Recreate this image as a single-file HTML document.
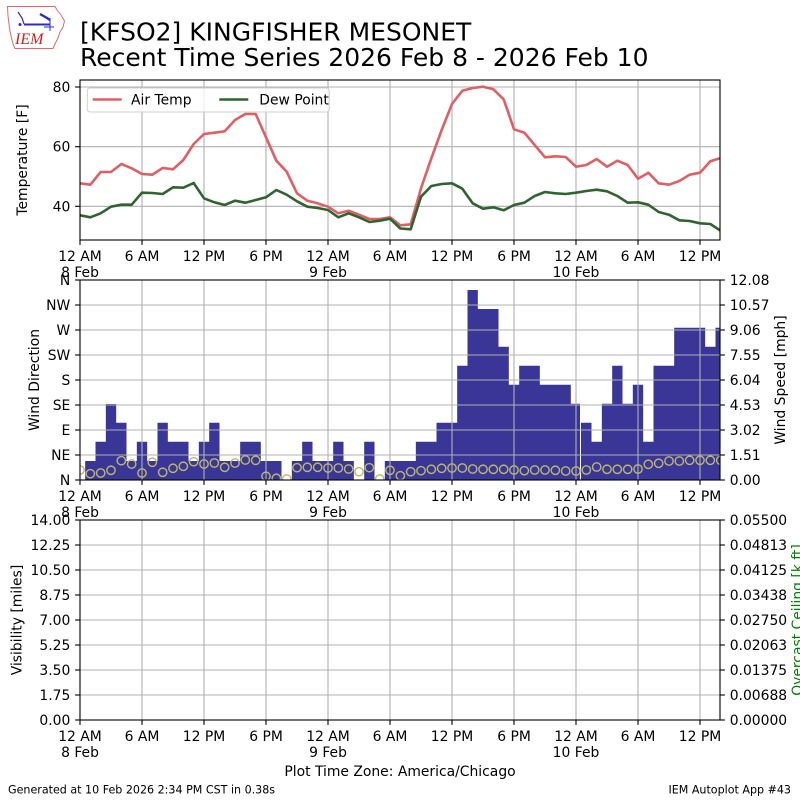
<!DOCTYPE html>
<html>
<head>
<meta charset="utf-8">
<style>
  html, body { margin: 0; padding: 0; background: #ffffff; }
  body { width: 800px; height: 800px; overflow: hidden; }
  svg { display: block; }
  text { font-family: "DejaVu Sans", "Liberation Sans", sans-serif; fill: #000; }
</style>
</head>
<body>
<svg width="800" height="800" viewBox="0 0 800 800" xmlns="http://www.w3.org/2000/svg">
  <rect x="0" y="0" width="800" height="800" fill="#ffffff"/>

  <!-- Logo -->
  <g>
    <path d="M7.5,6.5 L55,6.5 L57,10 L61,15 L64.5,21 L63,27 L60,32 L58,38 L55.5,43 L53,48.5 L15,48.5 L13,44 L11.5,38 L10,31 L9,24 L8,16 Z" fill="none" stroke="#e06a6a" stroke-width="1"/>
    <line x1="24" y1="24.5" x2="50" y2="24.5" stroke="#2a2ad0" stroke-width="2"/>
    <path d="M18,12 L22,18 L24,24" fill="none" stroke="#2a2ad0" stroke-width="1.2"/>
    <path d="M40,14 L47,18 L50,20" fill="none" stroke="#2a2ad0" stroke-width="2.4"/>
    <line x1="50" y1="18" x2="50" y2="31" stroke="#2a2ad0" stroke-width="1"/>
    <line x1="44" y1="27" x2="54" y2="27" stroke="#2a2ad0" stroke-width="1"/>
    <circle cx="20" cy="24.5" r="1.5" fill="#2a2ad0"/>
    <text x="15" y="44" font-family="Liberation Serif, serif" font-style="italic" font-size="16" fill="#d02020" style="font-family:'Liberation Serif',serif;fill:#d02020">IEM</text>
  </g>

  <!-- Title -->
  <text x="80" y="40.5" font-size="25">[KFSO2] KINGFISHER MESONET</text>
  <text x="80" y="66" font-size="25">Recent Time Series 2026 Feb 8 - 2026 Feb 10</text>

  <defs>
    <clipPath id="c1"><rect x="80" y="80" width="640" height="160"/></clipPath>
    <clipPath id="c2"><rect x="80" y="280" width="640" height="200"/></clipPath>
  </defs>

  <!-- ================= PANEL 1 ================= -->
  <g stroke="#b0b0b0" stroke-width="1.1">
    <line x1="142" y1="80" x2="142" y2="240"/>
    <line x1="204" y1="80" x2="204" y2="240"/>
    <line x1="266" y1="80" x2="266" y2="240"/>
    <line x1="328" y1="80" x2="328" y2="240"/>
    <line x1="390" y1="80" x2="390" y2="240"/>
    <line x1="452" y1="80" x2="452" y2="240"/>
    <line x1="514" y1="80" x2="514" y2="240"/>
    <line x1="576" y1="80" x2="576" y2="240"/>
    <line x1="638" y1="80" x2="638" y2="240"/>
    <line x1="700" y1="80" x2="700" y2="240"/>
    <line x1="80" y1="87" x2="720" y2="87"/>
    <line x1="80" y1="146.7" x2="720" y2="146.7"/>
    <line x1="80" y1="206.3" x2="720" y2="206.3"/>
  </g>
  <g clip-path="url(#c1)" fill="none" stroke-width="2.6" stroke-linejoin="round" stroke-linecap="square">
    <polyline stroke="#df6064" points="80,183.3 90.33,184.7 100.67,172 111,172 121.33,164 131.67,168.3 142,174 152.33,174.7 162.67,168 173,169.3 183.33,160 193.67,144 204,134 214.33,132.7 224.67,131.3 235,120 245.33,114 255.67,114 266,137.3 276.33,160.7 286.67,171.7 297,193.3 307.33,200.7 317.67,203.3 328,206.7 338.33,213.3 348.67,210.7 359,214.7 369.33,219 379.67,219 390,217.3 400.33,225.3 410.67,224.3 421,188.3 431.33,158.3 441.67,130 452,104 462.33,90.7 472.67,88 483,86.7 493.33,89.3 503.67,99.3 514,129.3 524.33,132.7 534.67,145 545,157.3 555.33,156.3 565.67,157 576,166.7 586.33,165 596.67,159 607,166.7 617.33,160.7 627.67,165 638,178.7 648.33,172.7 658.67,183.3 669,184.7 679.33,181 689.67,174.7 700,172.7 710.33,161.3 720.67,158"/>
    <polyline stroke="#2f6431" points="80,215.3 90.33,217.3 100.67,213.3 111,206.7 121.33,204.7 131.67,204.7 142,192.7 152.33,193 162.67,194 173,187.3 183.33,187.7 193.67,183 204,198.3 214.33,202.3 224.67,205 235,200.7 245.33,202.7 255.67,200 266,197.3 276.33,190 286.67,194.7 297,201.3 307.33,206.7 317.67,208 328,210 338.33,217.3 348.67,213.3 359,217.3 369.33,222 379.67,220.7 390,218.7 400.33,228.5 410.67,229.3 421,196.7 431.33,186 441.67,184 452,183.3 462.33,188.7 472.67,203.3 483,208.7 493.33,207.3 503.67,210.3 514,205 524.33,202.7 534.67,196 545,192 555.33,193.3 565.67,194 576,192.7 586.33,191 596.67,189.7 607,191.3 617.33,196 627.67,202.7 638,202.3 648.33,204.7 658.67,212 669,214.7 679.33,220.3 689.67,221 700,223.3 710.33,224 720.67,230.7"/>
  </g>
  <!-- legend -->
  <rect x="87.3" y="88" width="242" height="24" rx="3" ry="3" fill="#ffffff" fill-opacity="0.8" stroke="#d0d0d0" stroke-width="1"/>
  <line x1="92.7" y1="99.5" x2="121.7" y2="99.5" stroke="#df6064" stroke-width="2.6"/>
  <text x="131" y="104.5" font-size="13.9">Air Temp</text>
  <line x1="219.3" y1="99.5" x2="248.3" y2="99.5" stroke="#2f6431" stroke-width="2.6"/>
  <text x="259.3" y="104.5" font-size="13.9">Dew Point</text>

  <rect x="80" y="80" width="640" height="160" fill="none" stroke="#000" stroke-width="1.1"/>
  <g stroke="#000" stroke-width="1.1">
    <line x1="75.1" y1="87" x2="80" y2="87"/>
    <line x1="75.1" y1="146.7" x2="80" y2="146.7"/>
    <line x1="75.1" y1="206.3" x2="80" y2="206.3"/>
    <line x1="80" y1="240" x2="80" y2="244.9"/>
    <line x1="142" y1="240" x2="142" y2="244.9"/>
    <line x1="204" y1="240" x2="204" y2="244.9"/>
    <line x1="266" y1="240" x2="266" y2="244.9"/>
    <line x1="328" y1="240" x2="328" y2="244.9"/>
    <line x1="390" y1="240" x2="390" y2="244.9"/>
    <line x1="452" y1="240" x2="452" y2="244.9"/>
    <line x1="514" y1="240" x2="514" y2="244.9"/>
    <line x1="576" y1="240" x2="576" y2="244.9"/>
    <line x1="638" y1="240" x2="638" y2="244.9"/>
    <line x1="700" y1="240" x2="700" y2="244.9"/>
  </g>
  <g font-size="13.9" text-anchor="end">
    <text x="70.3" y="92">80</text>
    <text x="70.3" y="151.7">60</text>
    <text x="70.3" y="211.3">40</text>
  </g>
  <g font-size="13.9" text-anchor="middle">
    <text x="80" y="261">12 AM</text><text x="80" y="277">8 Feb</text>
    <text x="142" y="261">6 AM</text>
    <text x="204" y="261">12 PM</text>
    <text x="266" y="261">6 PM</text>
    <text x="328" y="261">12 AM</text><text x="328" y="277">9 Feb</text>
    <text x="390" y="261">6 AM</text>
    <text x="452" y="261">12 PM</text>
    <text x="514" y="261">6 PM</text>
    <text x="576" y="261">12 AM</text><text x="576" y="277">10 Feb</text>
    <text x="638" y="261">6 AM</text>
    <text x="700" y="261">12 PM</text>
  </g>
  <text transform="translate(27,160) rotate(-90)" font-size="13.9" text-anchor="middle">Temperature [F]</text>

  <!-- ================= PANEL 2 ================= -->
  <path fill="#3a3698" d="M85.17,480V461H95.5V480Z M95.5,480V441.7H105.83V480Z M105.83,480V404H116.17V480Z M116.17,480V422.7H126.5V480Z M126.5,480V461H136.83V480Z M136.83,480V441.7H147.17V480Z M147.17,480V461H157.5V480Z M157.5,480V422.7H167.83V480Z M167.83,480V441.7H188.5V480Z M188.5,480V461H198.83V480Z M198.83,480V441.7H209.17V480Z M209.17,480V422.7H219.5V480Z M219.5,480V461H240.17V480Z M240.17,480V441.7H260.83V480Z M260.83,480V461H281.5V480Z M291.83,480V461H302.17V480Z M302.17,480V441.7H312.5V480Z M312.5,480V461H333.17V480Z M333.17,480V441.7H343.5V480Z M343.5,480V461H353.83V480Z M364.17,480V441.7H374.5V480Z M384.83,480V461H415.83V480Z M415.83,480V441.7H436.5V480Z M436.5,480V422.7H457.17V480Z M457.17,480V365.7H467.5V480Z M467.5,480V290H477.83V480Z M477.83,480V309H498.5V480Z M498.5,480V346.7H508.83V480Z M508.83,480V384.7H519.17V480Z M519.17,480V365.7H539.83V480Z M539.83,480V384.7H570.83V480Z M570.83,480V403.7H580V480Z M581,480V422.7H591.5V480Z M591.5,480V441.7H601.83V480Z M601.83,480V403.7H612.17V480Z M612.17,480V365.7H622.5V480Z M622.5,480V403.7H632.83V480Z M632.83,480V384.7H643.17V480Z M643.17,480V441.7H653.5V480Z M653.5,480V365.7H674.17V480Z M674.17,480V327.7H705.17V480Z M705.17,480V346.7H715.5V480Z M715.5,480V327.7H720V480Z"/>
  <g stroke="#b0b0b0" stroke-width="1.1">
    <line x1="142" y1="280" x2="142" y2="480"/>
    <line x1="204" y1="280" x2="204" y2="480"/>
    <line x1="266" y1="280" x2="266" y2="480"/>
    <line x1="328" y1="280" x2="328" y2="480"/>
    <line x1="390" y1="280" x2="390" y2="480"/>
    <line x1="452" y1="280" x2="452" y2="480"/>
    <line x1="514" y1="280" x2="514" y2="480"/>
    <line x1="576" y1="280" x2="576" y2="480"/>
    <line x1="638" y1="280" x2="638" y2="480"/>
    <line x1="700" y1="280" x2="700" y2="480"/>
    <line x1="80" y1="305" x2="720" y2="305"/>
    <line x1="80" y1="330" x2="720" y2="330"/>
    <line x1="80" y1="355" x2="720" y2="355"/>
    <line x1="80" y1="380" x2="720" y2="380"/>
    <line x1="80" y1="405" x2="720" y2="405"/>
    <line x1="80" y1="430" x2="720" y2="430"/>
    <line x1="80" y1="455" x2="720" y2="455"/>
  </g>
  <g clip-path="url(#c2)" fill="none" stroke="#bdb76b" stroke-width="1.4">
    <circle cx="80" cy="470" r="4.17"/>
    <circle cx="90.33" cy="473.7" r="4.17"/>
    <circle cx="100.67" cy="473" r="4.17"/>
    <circle cx="111" cy="470.3" r="4.17"/>
    <circle cx="121.33" cy="460.7" r="4.17"/>
    <circle cx="131.67" cy="464" r="4.17"/>
    <circle cx="142" cy="473" r="4.17"/>
    <circle cx="152.33" cy="462.3" r="4.17"/>
    <circle cx="162.67" cy="472.3" r="4.17"/>
    <circle cx="173" cy="468.3" r="4.17"/>
    <circle cx="183.33" cy="466.3" r="4.17"/>
    <circle cx="193.67" cy="461.7" r="4.17"/>
    <circle cx="204" cy="464" r="4.17"/>
    <circle cx="214.33" cy="463" r="4.17"/>
    <circle cx="224.67" cy="467.3" r="4.17"/>
    <circle cx="235" cy="463" r="4.17"/>
    <circle cx="245.33" cy="460" r="4.17"/>
    <circle cx="255.67" cy="460.3" r="4.17"/>
    <circle cx="266" cy="476.3" r="4.17"/>
    <circle cx="276.33" cy="478.3" r="4.17"/>
    <circle cx="286.67" cy="479" r="4.17"/>
    <circle cx="297" cy="467.7" r="4.17"/>
    <circle cx="307.33" cy="467.3" r="4.17"/>
    <circle cx="317.67" cy="467.3" r="4.17"/>
    <circle cx="328" cy="468" r="4.17"/>
    <circle cx="338.33" cy="468" r="4.17"/>
    <circle cx="348.67" cy="469" r="4.17"/>
    <circle cx="359" cy="471.7" r="4.17"/>
    <circle cx="369.33" cy="467.7" r="4.17"/>
    <circle cx="379.67" cy="479" r="4.17"/>
    <circle cx="390" cy="470.3" r="4.17"/>
    <circle cx="400.33" cy="475.7" r="4.17"/>
    <circle cx="410.67" cy="471.7" r="4.17"/>
    <circle cx="421" cy="470.7" r="4.17"/>
    <circle cx="431.33" cy="469.3" r="4.17"/>
    <circle cx="441.67" cy="468.3" r="4.17"/>
    <circle cx="452" cy="468" r="4.17"/>
    <circle cx="462.33" cy="468" r="4.17"/>
    <circle cx="472.67" cy="469" r="4.17"/>
    <circle cx="483" cy="469.3" r="4.17"/>
    <circle cx="493.33" cy="469.3" r="4.17"/>
    <circle cx="503.67" cy="469.3" r="4.17"/>
    <circle cx="514" cy="470" r="4.17"/>
    <circle cx="524.33" cy="470.7" r="4.17"/>
    <circle cx="534.67" cy="470" r="4.17"/>
    <circle cx="545" cy="470" r="4.17"/>
    <circle cx="555.33" cy="470.3" r="4.17"/>
    <circle cx="565.67" cy="471" r="4.17"/>
    <circle cx="576" cy="471" r="4.17"/>
    <circle cx="586.33" cy="470" r="4.17"/>
    <circle cx="596.67" cy="467" r="4.17"/>
    <circle cx="607" cy="469.3" r="4.17"/>
    <circle cx="617.33" cy="469.3" r="4.17"/>
    <circle cx="627.67" cy="469.3" r="4.17"/>
    <circle cx="638" cy="469" r="4.17"/>
    <circle cx="648.33" cy="464.3" r="4.17"/>
    <circle cx="658.67" cy="463.3" r="4.17"/>
    <circle cx="669" cy="461" r="4.17"/>
    <circle cx="679.33" cy="461" r="4.17"/>
    <circle cx="689.67" cy="460.3" r="4.17"/>
    <circle cx="700" cy="460.3" r="4.17"/>
    <circle cx="710.33" cy="460.3" r="4.17"/>
    <circle cx="720.67" cy="460.3" r="4.17"/>
  </g>
  <rect x="80" y="280" width="640" height="200" fill="none" stroke="#000" stroke-width="1.1"/>
  <g stroke="#000" stroke-width="1.1">
    <line x1="75.1" y1="280" x2="80" y2="280"/>
    <line x1="75.1" y1="305" x2="80" y2="305"/>
    <line x1="75.1" y1="330" x2="80" y2="330"/>
    <line x1="75.1" y1="355" x2="80" y2="355"/>
    <line x1="75.1" y1="380" x2="80" y2="380"/>
    <line x1="75.1" y1="405" x2="80" y2="405"/>
    <line x1="75.1" y1="430" x2="80" y2="430"/>
    <line x1="75.1" y1="455" x2="80" y2="455"/>
    <line x1="75.1" y1="480" x2="80" y2="480"/>
    <line x1="720" y1="280" x2="724.9" y2="280"/>
    <line x1="720" y1="305" x2="724.9" y2="305"/>
    <line x1="720" y1="330" x2="724.9" y2="330"/>
    <line x1="720" y1="355" x2="724.9" y2="355"/>
    <line x1="720" y1="380" x2="724.9" y2="380"/>
    <line x1="720" y1="405" x2="724.9" y2="405"/>
    <line x1="720" y1="430" x2="724.9" y2="430"/>
    <line x1="720" y1="455" x2="724.9" y2="455"/>
    <line x1="720" y1="480" x2="724.9" y2="480"/>
    <line x1="80" y1="480" x2="80" y2="484.9"/>
    <line x1="142" y1="480" x2="142" y2="484.9"/>
    <line x1="204" y1="480" x2="204" y2="484.9"/>
    <line x1="266" y1="480" x2="266" y2="484.9"/>
    <line x1="328" y1="480" x2="328" y2="484.9"/>
    <line x1="390" y1="480" x2="390" y2="484.9"/>
    <line x1="452" y1="480" x2="452" y2="484.9"/>
    <line x1="514" y1="480" x2="514" y2="484.9"/>
    <line x1="576" y1="480" x2="576" y2="484.9"/>
    <line x1="638" y1="480" x2="638" y2="484.9"/>
    <line x1="700" y1="480" x2="700" y2="484.9"/>
  </g>
  <g font-size="13.9" text-anchor="end">
    <text x="70.3" y="285">N</text>
    <text x="70.3" y="310">NW</text>
    <text x="70.3" y="335">W</text>
    <text x="70.3" y="360">SW</text>
    <text x="70.3" y="385">S</text>
    <text x="70.3" y="410">SE</text>
    <text x="70.3" y="435">E</text>
    <text x="70.3" y="460">NE</text>
    <text x="70.3" y="485">N</text>
  </g>
  <g font-size="13.9" text-anchor="start">
    <text x="729.7" y="285">12.08</text>
    <text x="729.7" y="310">10.57</text>
    <text x="729.7" y="335">9.06</text>
    <text x="729.7" y="360">7.55</text>
    <text x="729.7" y="385">6.04</text>
    <text x="729.7" y="410">4.53</text>
    <text x="729.7" y="435">3.02</text>
    <text x="729.7" y="460">1.51</text>
    <text x="729.7" y="485">0.00</text>
  </g>
  <g font-size="13.9" text-anchor="middle">
    <text x="80" y="501">12 AM</text><text x="80" y="517">8 Feb</text>
    <text x="142" y="501">6 AM</text>
    <text x="204" y="501">12 PM</text>
    <text x="266" y="501">6 PM</text>
    <text x="328" y="501">12 AM</text><text x="328" y="517">9 Feb</text>
    <text x="390" y="501">6 AM</text>
    <text x="452" y="501">12 PM</text>
    <text x="514" y="501">6 PM</text>
    <text x="576" y="501">12 AM</text><text x="576" y="517">10 Feb</text>
    <text x="638" y="501">6 AM</text>
    <text x="700" y="501">12 PM</text>
  </g>
  <text transform="translate(39,380) rotate(-90)" font-size="13.9" text-anchor="middle">Wind Direction</text>
  <text transform="translate(785,380) rotate(-90)" font-size="13.9" text-anchor="middle">Wind Speed [mph]</text>

  <!-- ================= PANEL 3 ================= -->
  <g stroke="#b0b0b0" stroke-width="1.1">
    <line x1="142" y1="520" x2="142" y2="720"/>
    <line x1="204" y1="520" x2="204" y2="720"/>
    <line x1="266" y1="520" x2="266" y2="720"/>
    <line x1="328" y1="520" x2="328" y2="720"/>
    <line x1="390" y1="520" x2="390" y2="720"/>
    <line x1="452" y1="520" x2="452" y2="720"/>
    <line x1="514" y1="520" x2="514" y2="720"/>
    <line x1="576" y1="520" x2="576" y2="720"/>
    <line x1="638" y1="520" x2="638" y2="720"/>
    <line x1="700" y1="520" x2="700" y2="720"/>
    <line x1="80" y1="545" x2="720" y2="545"/>
    <line x1="80" y1="570" x2="720" y2="570"/>
    <line x1="80" y1="595" x2="720" y2="595"/>
    <line x1="80" y1="620" x2="720" y2="620"/>
    <line x1="80" y1="645" x2="720" y2="645"/>
    <line x1="80" y1="670" x2="720" y2="670"/>
    <line x1="80" y1="695" x2="720" y2="695"/>
  </g>
  <rect x="80" y="520" width="640" height="200" fill="none" stroke="#000" stroke-width="1.1"/>
  <g stroke="#000" stroke-width="1.1">
    <line x1="75.1" y1="520" x2="80" y2="520"/>
    <line x1="75.1" y1="545" x2="80" y2="545"/>
    <line x1="75.1" y1="570" x2="80" y2="570"/>
    <line x1="75.1" y1="595" x2="80" y2="595"/>
    <line x1="75.1" y1="620" x2="80" y2="620"/>
    <line x1="75.1" y1="645" x2="80" y2="645"/>
    <line x1="75.1" y1="670" x2="80" y2="670"/>
    <line x1="75.1" y1="695" x2="80" y2="695"/>
    <line x1="75.1" y1="720" x2="80" y2="720"/>
    <line x1="720" y1="520" x2="724.9" y2="520"/>
    <line x1="720" y1="545" x2="724.9" y2="545"/>
    <line x1="720" y1="570" x2="724.9" y2="570"/>
    <line x1="720" y1="595" x2="724.9" y2="595"/>
    <line x1="720" y1="620" x2="724.9" y2="620"/>
    <line x1="720" y1="645" x2="724.9" y2="645"/>
    <line x1="720" y1="670" x2="724.9" y2="670"/>
    <line x1="720" y1="695" x2="724.9" y2="695"/>
    <line x1="720" y1="720" x2="724.9" y2="720"/>
    <line x1="80" y1="720" x2="80" y2="724.9"/>
    <line x1="142" y1="720" x2="142" y2="724.9"/>
    <line x1="204" y1="720" x2="204" y2="724.9"/>
    <line x1="266" y1="720" x2="266" y2="724.9"/>
    <line x1="328" y1="720" x2="328" y2="724.9"/>
    <line x1="390" y1="720" x2="390" y2="724.9"/>
    <line x1="452" y1="720" x2="452" y2="724.9"/>
    <line x1="514" y1="720" x2="514" y2="724.9"/>
    <line x1="576" y1="720" x2="576" y2="724.9"/>
    <line x1="638" y1="720" x2="638" y2="724.9"/>
    <line x1="700" y1="720" x2="700" y2="724.9"/>
  </g>
  <g font-size="13.9" text-anchor="end">
    <text x="70.3" y="525">14.00</text>
    <text x="70.3" y="550">12.25</text>
    <text x="70.3" y="575">10.50</text>
    <text x="70.3" y="600">8.75</text>
    <text x="70.3" y="625">7.00</text>
    <text x="70.3" y="650">5.25</text>
    <text x="70.3" y="675">3.50</text>
    <text x="70.3" y="700">1.75</text>
    <text x="70.3" y="725">0.00</text>
  </g>
  <g font-size="13.9" text-anchor="start">
    <text x="729.7" y="525">0.05500</text>
    <text x="729.7" y="550">0.04813</text>
    <text x="729.7" y="575">0.04125</text>
    <text x="729.7" y="600">0.03438</text>
    <text x="729.7" y="625">0.02750</text>
    <text x="729.7" y="650">0.02063</text>
    <text x="729.7" y="675">0.01375</text>
    <text x="729.7" y="700">0.00688</text>
    <text x="729.7" y="725">0.00000</text>
  </g>
  <g font-size="13.9" text-anchor="middle">
    <text x="80" y="741">12 AM</text><text x="80" y="757">8 Feb</text>
    <text x="142" y="741">6 AM</text>
    <text x="204" y="741">12 PM</text>
    <text x="266" y="741">6 PM</text>
    <text x="328" y="741">12 AM</text><text x="328" y="757">9 Feb</text>
    <text x="390" y="741">6 AM</text>
    <text x="452" y="741">12 PM</text>
    <text x="514" y="741">6 PM</text>
    <text x="576" y="741">12 AM</text><text x="576" y="757">10 Feb</text>
    <text x="638" y="741">6 AM</text>
    <text x="700" y="741">12 PM</text>
  </g>
  <text transform="translate(21.5,620) rotate(-90)" font-size="13.9" text-anchor="middle">Visibility [miles]</text>
  <text transform="translate(802,620) rotate(-90)" font-size="13.9" text-anchor="middle" style="fill:#008000">Overcast Ceiling [k ft]</text>

  <!-- footer -->
  <text x="400" y="776" font-size="13.9" text-anchor="middle">Plot Time Zone: America/Chicago</text>
  <text x="8" y="793.5" font-size="11.1">Generated at 10 Feb 2026 2:34 PM CST in 0.38s</text>
  <text x="791" y="793.5" font-size="11.1" text-anchor="end">IEM Autoplot App #43</text>
</svg>
</body>
</html>
